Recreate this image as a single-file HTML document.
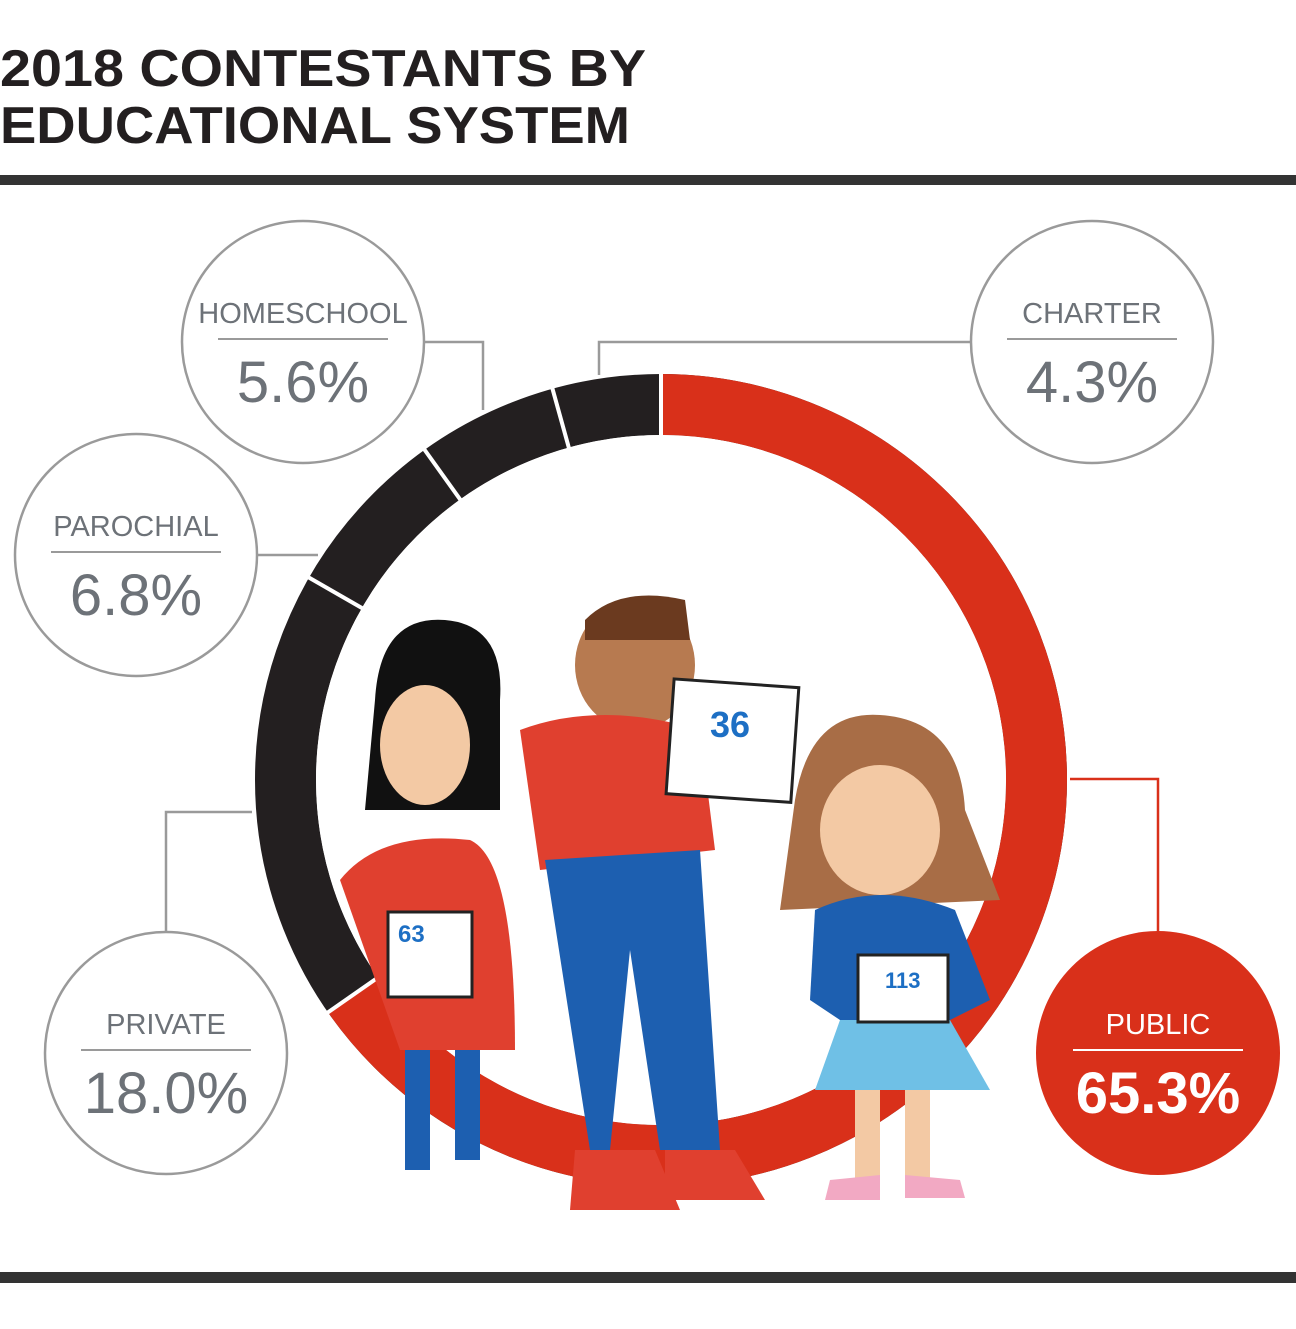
<!DOCTYPE html>
<html><head><meta charset="utf-8"><style>
body{margin:0;background:#fff;width:1296px;height:1324px;overflow:hidden;font-family:"Liberation Sans",sans-serif}
</style></head><body>
<svg width="1296" height="1324" xmlns="http://www.w3.org/2000/svg" font-family="Liberation Sans, sans-serif">
<text x="0" y="86" font-size="52" font-weight="bold" fill="#231f20" textLength="646" lengthAdjust="spacingAndGlyphs">2018 CONTESTANTS BY</text>
<text x="0" y="143" font-size="52" font-weight="bold" fill="#231f20" textLength="630" lengthAdjust="spacingAndGlyphs">EDUCATIONAL SYSTEM</text>
<rect x="0" y="175" width="1296" height="10" fill="#333"/>
<rect x="0" y="1272" width="1296" height="11" fill="#333"/>
<!-- connectors -->
<g stroke="#9a9a9a" stroke-width="2.5" fill="none">
<polyline points="424,342 483,342 483,410"/>
<polyline points="971,342 599,342 599,375"/>
<polyline points="257,555 318,555"/>
<polyline points="166,932 166,812 252,812"/>
</g>
<polyline points="1070,779 1158,779 1158,932" stroke="#d9301a" stroke-width="2.5" fill="none"/>
<!-- donut -->
<g transform="rotate(-90 661 780)">
<circle cx="661" cy="780" r="375.5" fill="none" stroke="#231f20" stroke-width="61"/>
<circle cx="661" cy="780" r="375.5" fill="none" stroke="#d9301a" stroke-width="61" pathLength="100" stroke-dasharray="65.3 34.7"/>
</g>
<g stroke="#fff" stroke-width="4">
<line x1="661" y1="780" x2="661" y2="370" transform="rotate(0 661 780)"/>
<line x1="661" y1="780" x2="661" y2="370" transform="rotate(235.1 661 780)"/>
<line x1="661" y1="780" x2="661" y2="370" transform="rotate(299.9 661 780)"/>
<line x1="661" y1="780" x2="661" y2="370" transform="rotate(324.4 661 780)"/>
<line x1="661" y1="780" x2="661" y2="370" transform="rotate(344.5 661 780)"/>
</g>
<circle cx="661" cy="780" r="345" fill="#fff"/>
<!-- rough illustration -->
<g>
<path d="M375,700 Q380,615 445,620 Q505,625 500,700 L500,810 L365,810 Z" fill="#111"/>
<ellipse cx="425" cy="745" rx="45" ry="60" fill="#f3c9a4"/>
<path d="M340,880 Q380,830 470,840 Q515,860 515,1050 L400,1050 Z" fill="#e0402f"/>
<rect x="388" y="912" width="84" height="85" fill="#fff" stroke="#222" stroke-width="3"/>
<text x="398" y="942" font-size="24" font-weight="bold" fill="#1d6fc4">63</text>
<rect x="405" y="1050" width="25" height="120" fill="#1d5fb0"/><rect x="455" y="1050" width="25" height="110" fill="#1d5fb0"/>
<ellipse cx="635" cy="665" rx="60" ry="65" fill="#b77a50"/>
<path d="M585,620 Q620,585 685,600 L690,640 L585,640 Z" fill="#6b3a1f"/>
<path d="M520,730 Q600,700 700,730 L715,850 L540,870 Z" fill="#e0402f"/>
<rect x="670" y="683" width="125" height="115" fill="#fff" stroke="#222" stroke-width="3" transform="rotate(4 730 740)"/>
<text x="710" y="737" font-size="36" font-weight="bold" fill="#1d6fc4">36</text>
<path d="M545,860 L700,850 L720,1150 L660,1150 L630,950 L610,1150 L590,1150 Z" fill="#1d5fb0"/>
<path d="M575,1150 L655,1150 L680,1210 L570,1210 Z" fill="#e0402f"/><path d="M665,1150 L735,1150 L765,1200 L665,1200 Z" fill="#e0402f"/>
<path d="M795,800 Q810,710 880,715 Q960,720 965,810 L1000,900 L780,910 Z" fill="#a86d46"/>
<ellipse cx="880" cy="830" rx="60" ry="65" fill="#f3c9a4"/>
<path d="M815,910 Q880,880 955,910 L990,1000 L950,1020 L840,1020 L810,1000 Z" fill="#1d5fb0"/>
<path d="M840,1020 L950,1020 L990,1090 L815,1090 Z" fill="#6fc0e6"/>
<rect x="858" y="955" width="90" height="67" fill="#fff" stroke="#222" stroke-width="3"/>
<text x="885" y="988" font-size="22" font-weight="bold" fill="#1d6fc4">113</text>
<rect x="855" y="1090" width="25" height="90" fill="#f3c9a4"/><rect x="905" y="1090" width="25" height="90" fill="#f3c9a4"/>
<path d="M830,1180 L880,1175 L880,1200 L825,1200 Z" fill="#f2a9c3"/><path d="M905,1175 L960,1180 L965,1198 L905,1198 Z" fill="#f2a9c3"/>
</g>
<!-- bubbles -->
<g fill="#fff" stroke="#9a9a9a" stroke-width="2.5">
<circle cx="303" cy="342" r="121"/><circle cx="1092" cy="342" r="121"/>
<circle cx="136" cy="555" r="121"/><circle cx="166" cy="1053" r="121"/>
</g>
<circle cx="1158" cy="1053" r="122" fill="#d9301a"/>
<g stroke="#9a9a9a" stroke-width="2">
<line x1="218" y1="339" x2="388" y2="339"/><line x1="1007" y1="339" x2="1177" y2="339"/>
<line x1="51" y1="552" x2="221" y2="552"/><line x1="81" y1="1050" x2="251" y2="1050"/>
</g>
<line x1="1073" y1="1050" x2="1243" y2="1050" stroke="#fff" stroke-width="2"/>
<g text-anchor="middle" fill="#6d7278">
<text x="303" y="323" font-size="29">HOMESCHOOL</text><text x="303" y="402" font-size="58">5.6%</text>
<text x="1092" y="323" font-size="29">CHARTER</text><text x="1092" y="402" font-size="58">4.3%</text>
<text x="136" y="536" font-size="29">PAROCHIAL</text><text x="136" y="615" font-size="58">6.8%</text>
<text x="166" y="1034" font-size="29">PRIVATE</text><text x="166" y="1113" font-size="58">18.0%</text>
</g>
<text x="1158" y="1034" font-size="29" fill="#fff" text-anchor="middle">PUBLIC</text>
<text x="1158" y="1113" font-size="58" font-weight="bold" fill="#fff" text-anchor="middle">65.3%</text>
</svg>
</body></html>
